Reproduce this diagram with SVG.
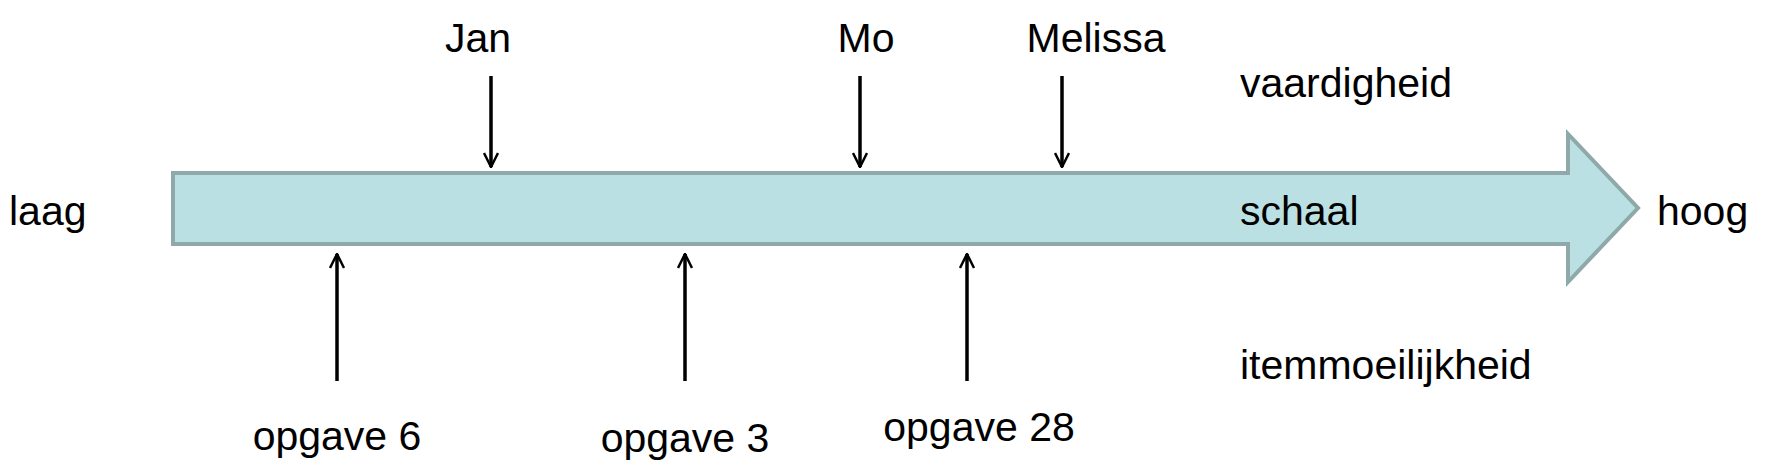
<svg xmlns="http://www.w3.org/2000/svg" width="1772" height="461" viewBox="0 0 1772 461">
<style>
text{font-family:"Liberation Sans",Arial,sans-serif;font-size:41px;fill:#000}
.c{text-anchor:middle}
.a{stroke:#000;stroke-width:3.5;fill:none}
</style>
<defs>
<marker id="h" viewBox="0 0 16 16" refX="15" refY="8" markerWidth="16" markerHeight="16" markerUnits="userSpaceOnUse" orient="auto"><path d="M1,1 L15,8 L1,15" stroke="#000" stroke-width="2.5" fill="none"/></marker>
</defs>
<rect width="1772" height="461" fill="#fff"/>
<g id="scale">
<path d="M173,173 H1568 V134 L1638,208 L1568,282 V244 H173 Z" fill="#bae0e3" stroke="#8fa8aa" stroke-width="4"/>
</g>
<g id="labels">
<text x="9" y="225">laag</text>
<text x="1657" y="225">hoog</text>
<text x="1240" y="97">vaardigheid</text>
<text x="1240" y="225">schaal</text>
<text x="1240" y="379">itemmoeilijkheid</text>
</g>
<g id="jan"><text class="c" x="478" y="52">Jan</text></g>
<g id="mo"><text class="c" x="866" y="52">Mo</text></g>
<g id="melissa"><text class="c" x="1096" y="52">Melissa</text></g>
<g id="o6"><text class="c" x="337" y="450">opgave 6</text></g>
<g id="o3"><text class="c" x="685" y="452">opgave 3</text></g>
<g id="o28"><text class="c" x="979" y="441">opgave 28</text></g>
<g id="connectors">
<line class="a" x1="491" y1="76" x2="491" y2="167" marker-end="url(#h)"/>
<line class="a" x1="860" y1="76" x2="860" y2="167" marker-end="url(#h)"/>
<line class="a" x1="1062" y1="76" x2="1062" y2="167" marker-end="url(#h)"/>
<line class="a" x1="337" y1="381" x2="337" y2="254" marker-end="url(#h)"/>
<line class="a" x1="685" y1="381" x2="685" y2="254" marker-end="url(#h)"/>
<line class="a" x1="967" y1="381" x2="967" y2="254" marker-end="url(#h)"/>
</g>
</svg>
